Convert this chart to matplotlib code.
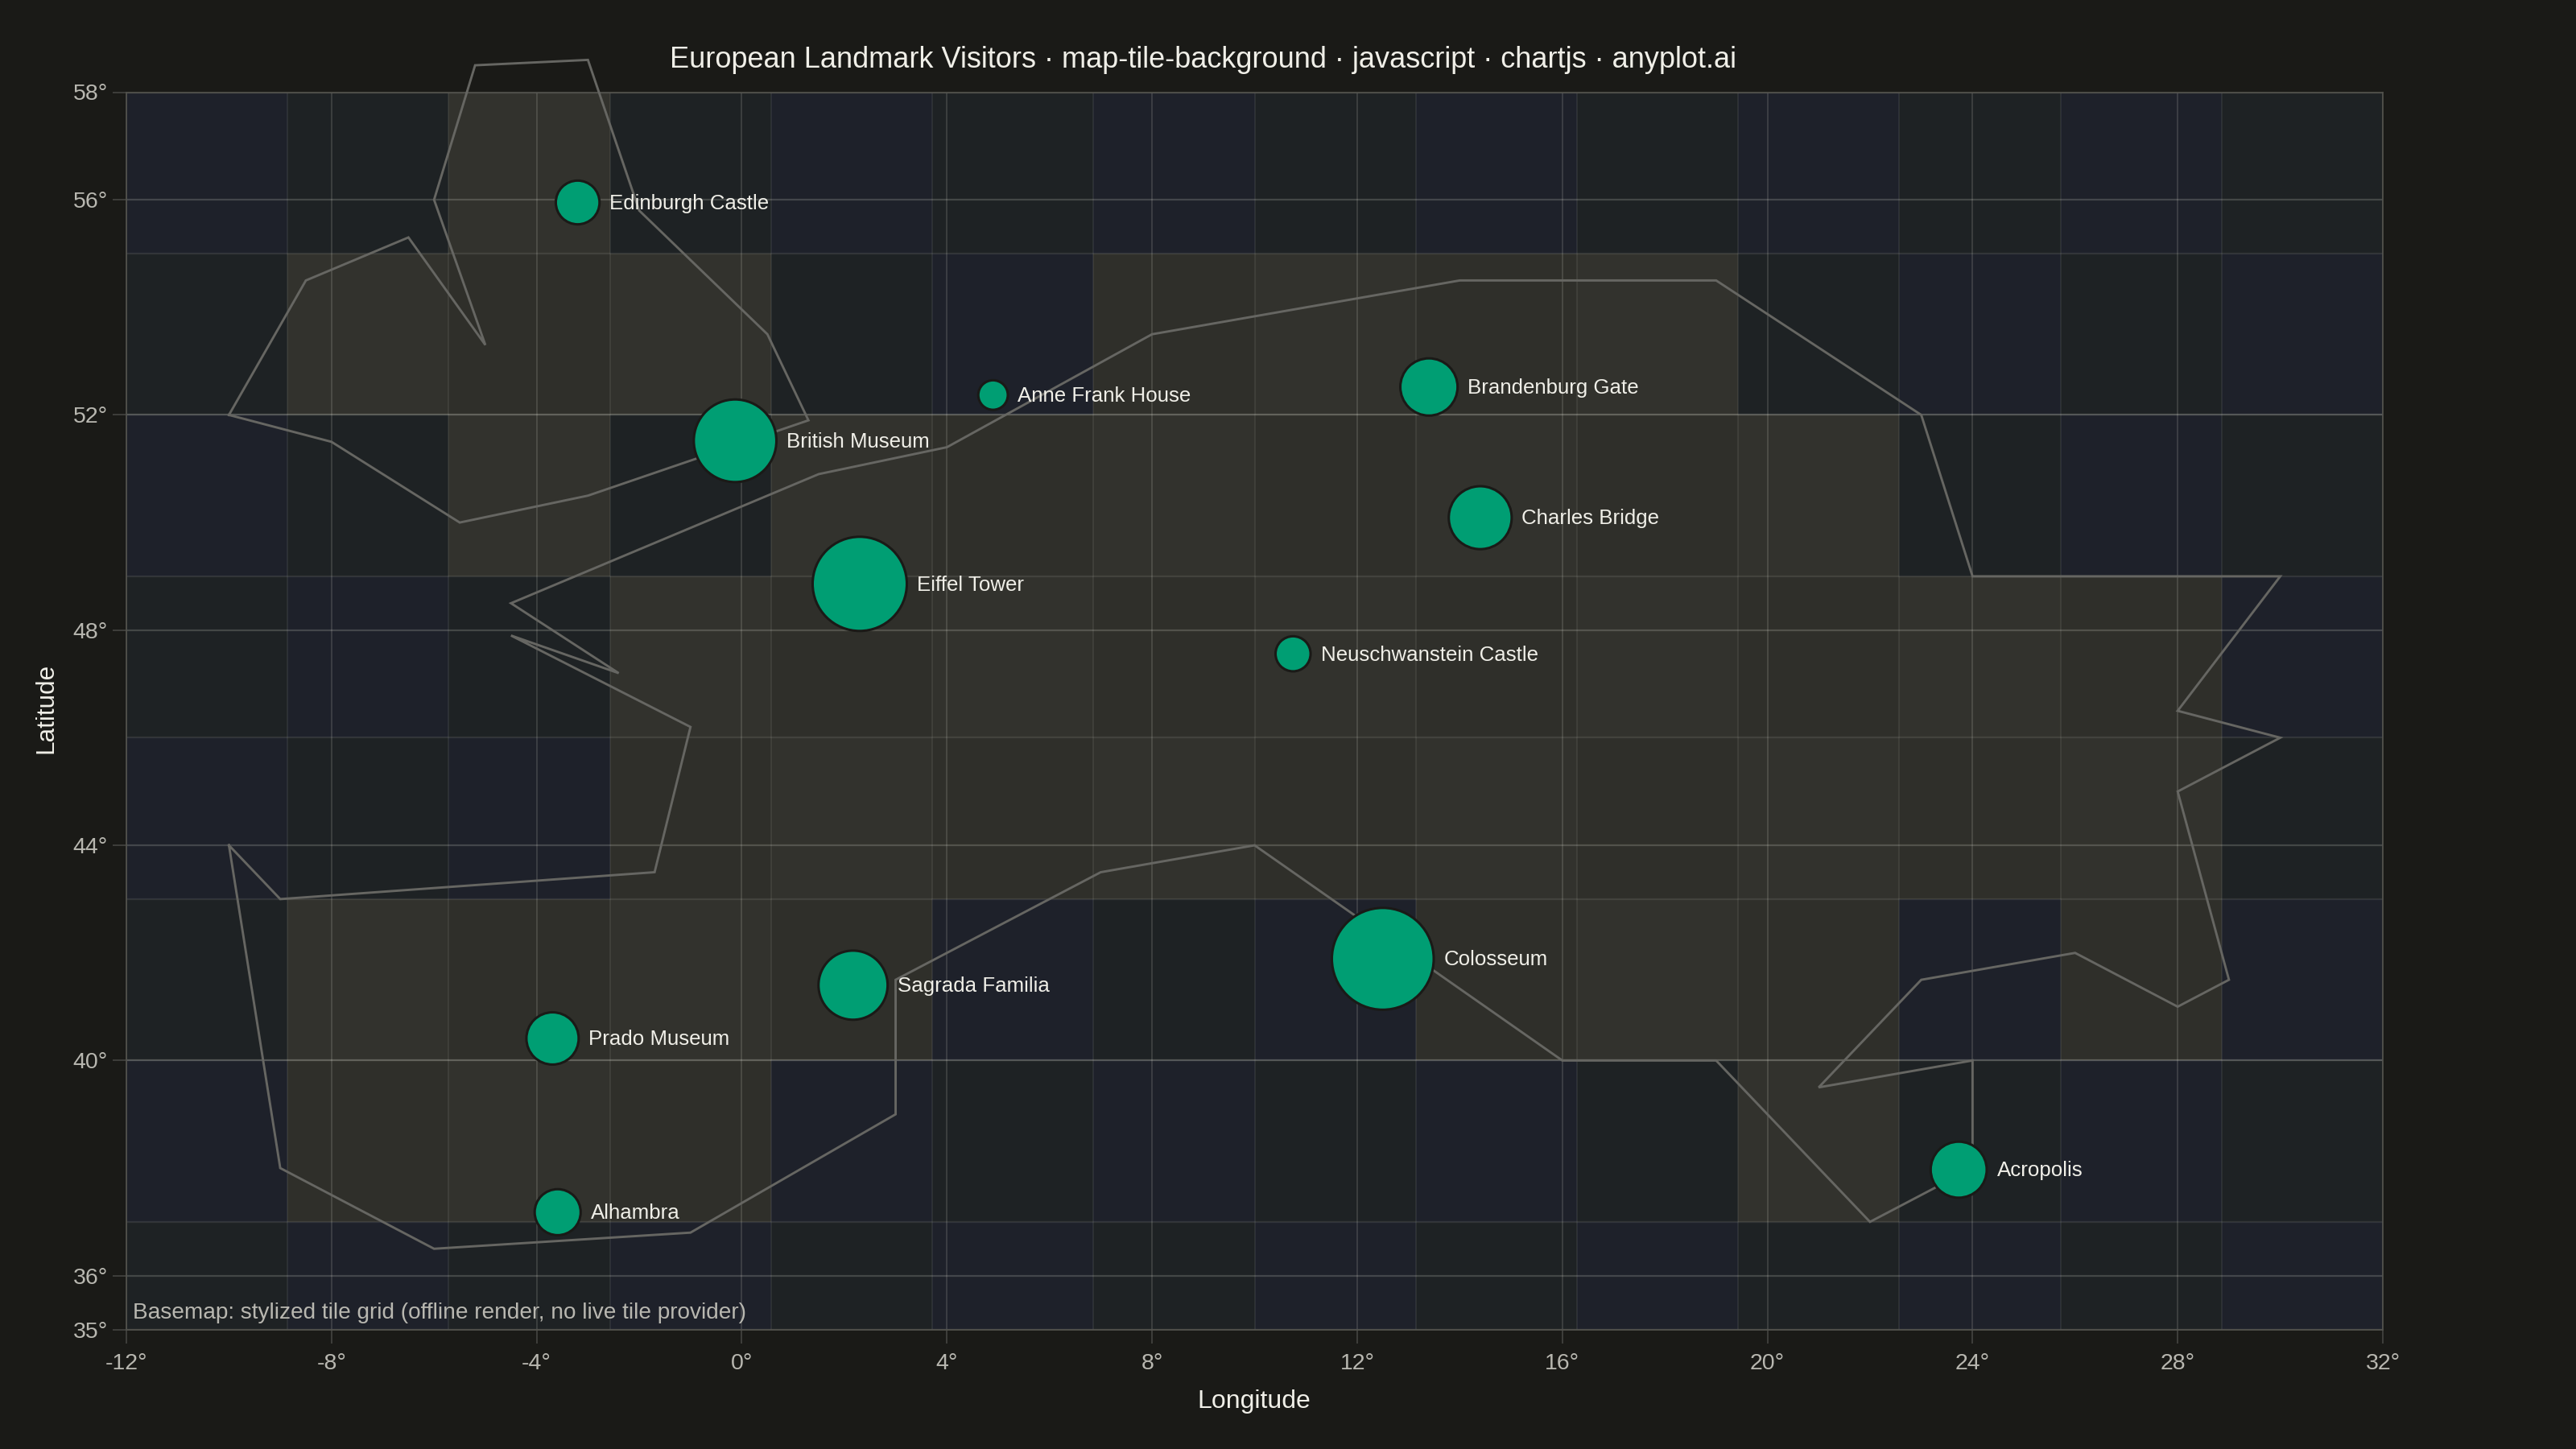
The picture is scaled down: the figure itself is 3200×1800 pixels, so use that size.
import numpy as np
import matplotlib
matplotlib.use("Agg")
import matplotlib.pyplot as plt

plt.rcParams['font.family'] = ['Liberation Sans', 'DejaVu Sans']

TITLE = "European Landmark Visitors · map-tile-background · javascript · chartjs · anyplot.ai"
NOTE = "Basemap: stylized tile grid (offline render, no live tile provider)"

names = ["Edinburgh Castle", "Anne Frank House", "Brandenburg Gate", "British Museum",
         "Charles Bridge", "Eiffel Tower", "Neuschwanstein Castle", "Colosseum",
         "Sagrada Familia", "Prado Museum", "Alhambra", "Acropolis"]
lons = [-3.2, 4.9, 13.4, -0.13, 14.4, 2.3, 10.75, 12.5, 2.17, -3.69, -3.59, 23.73]
lats = [55.95, 52.37, 52.52, 51.52, 50.09, 48.86, 47.56, 41.89, 41.40, 40.41, 37.18, 37.97]
visitors = [1.4, 0.64, 2.4, 5.0, 2.9, 6.5, 0.9, 7.6, 3.5, 2.0, 1.55, 2.3]

lon_ticks = [-12, -8, -4, 0, 4, 8, 12, 16, 20, 24, 28, 32]
lat_ticks = [35, 36, 40, 44, 48, 52, 56, 58]
tile_lons = np.linspace(-12, 32, 15)
tile_lats = [58, 55, 52, 49, 46, 43, 40, 37, 35]
land_cols = [[2], [1, 2, 3, 6, 7, 8, 9], [2, 4, 5, 6, 7, 8, 9, 10],
             [3, 4, 5, 6, 7, 8, 9, 10, 11, 12], [3, 4, 5, 6, 7, 8, 9, 10, 11, 12],
             [1, 2, 3, 4, 8, 9, 10, 12], [1, 2, 3, 10], []]

britain_lon = [-10, -8.5, -6.5, -5, -6, -5.2, -3, -2, 0.5, 1.3, -3, -5.5, -8, -10]
britain_lat = [52, 54.5, 55.3, 53.3, 56, 58.5, 58.6, 55.8, 53.5, 51.9, 50.5, 50, 51.5, 52]
main_lon = [-10, -9, -1.7, -1, -4.5, -2.4, -4.5, 1.5, 4, 8, 14, 19, 23, 24, 30, 28, 30, 28, 29, 28,
            26, 23, 21, 24, 24, 22, 19, 16, 10, 7, 3, 3, -1, -6, -9, -10]
main_lat = [44, 43, 43.5, 46.2, 47.9, 47.2, 48.5, 50.9, 51.4, 53.5, 54.5, 54.5, 52, 49, 49, 46.5, 46, 45, 41.5, 41,
            42, 41.5, 39.5, 40, 38, 37, 40, 40, 44, 43.5, 41.5, 39, 36.8, 36.5, 38, 44]

BG = "#1A1A17"
BLUE = "#1E212A"
DARK = "#1E2224"
LAND_A = "#32322D"
LAND_B = "#2F2F2A"
TICK = "#B8B7B0"
INK = "#F0EFE8"
GREEN = "#009E73"

DPI = 100
fig = plt.figure(figsize=(32, 18), dpi=DPI, facecolor=BG)
L, R, T, B = 157, 2960, 114.5, 1651.5
ax = fig.add_axes([L/3200, 1-B/1800, (R-L)/3200, (B-T)/1800], facecolor=BLUE)
ax.set_xlim(-12, 32)
ax.set_ylim(35, 58)

for j in range(len(tile_lats)-1):
    for i in range(len(tile_lons)-1):
        even = (i+j) % 2 == 0
        if i in land_cols[j]:
            c = LAND_A if even else LAND_B
        else:
            c = BLUE if even else DARK
        ax.fill_between([tile_lons[i], tile_lons[i+1]], tile_lats[j+1], tile_lats[j],
                        color=c, lw=0, zorder=1)

tile_c = (1, 1, 0.95, 0.09)
ax.vlines(tile_lons, 35, 58, color=tile_c, lw=1.1, zorder=2)
ax.hlines(tile_lats, -12, 32, color=tile_c, lw=1.6, zorder=2)
grid_c = (1, 1, 0.95, 0.17)
ax.vlines(lon_ticks, 35, 58, color=grid_c, lw=1.1, zorder=2.1)
ax.hlines(lat_ticks, -12, 32, color=grid_c, lw=1.6, zorder=2.1)

for xs, ys in ((britain_lon, britain_lat), (main_lon, main_lat)):
    ax.plot(xs, ys, color="#666662", lw=2.1, clip_on=False, zorder=3, solid_joinstyle="miter")

K = 11.25 * 2.04  # px radius per sqrt(million visitors)
radii_px = K * np.sqrt(visitors)
sizes = (2 * radii_px * 72 / DPI) ** 2
ax.scatter(lons, lats, s=sizes, c=GREEN, edgecolors="#1A1A17", linewidths=2.2, zorder=4)

for n, x, y, r in zip(names, lons, lats, radii_px):
    ax.annotate(n, (x, y), xytext=((r + 12.5) * 72 / DPI, -1.0), textcoords="offset points",
                color=INK, fontsize=18.6, va="center", ha="left", zorder=5)

fig.text(165/3200, 1-1631/1800, NOTE, color=TICK, fontsize=20.2, va="center", ha="left", zorder=6)

ax.set_xticks(lon_ticks)
ax.set_xticklabels([f"{v}°" for v in lon_ticks])
ax.set_yticks(lat_ticks)
ax.set_yticklabels([f"{v}°" for v in lat_ticks])
ax.tick_params(axis="both", colors="#484845", labelcolor=TICK, labelsize=20.5, length=12, width=1.1)
ax.tick_params(axis="x", pad=9)
ax.tick_params(axis="y", pad=4.5)
for s in ax.spines.values():
    s.set_color("#50504B")
    s.set_linewidth(1.3)
    s.set_zorder(2.5)

fig.text(1495/3200, 1-75/1800, TITLE, color=INK, fontsize=26, ha="center", va="center")
fig.text(1558/3200, 1-1741/1800, "Longitude", color=INK, fontsize=23, ha="center", va="center")
fig.text(57/3200, 1-880/1800, "Latitude", color=INK, fontsize=22.7, ha="center", va="center", rotation=90)

fig.savefig("out.png", dpi=DPI, facecolor=BG)
